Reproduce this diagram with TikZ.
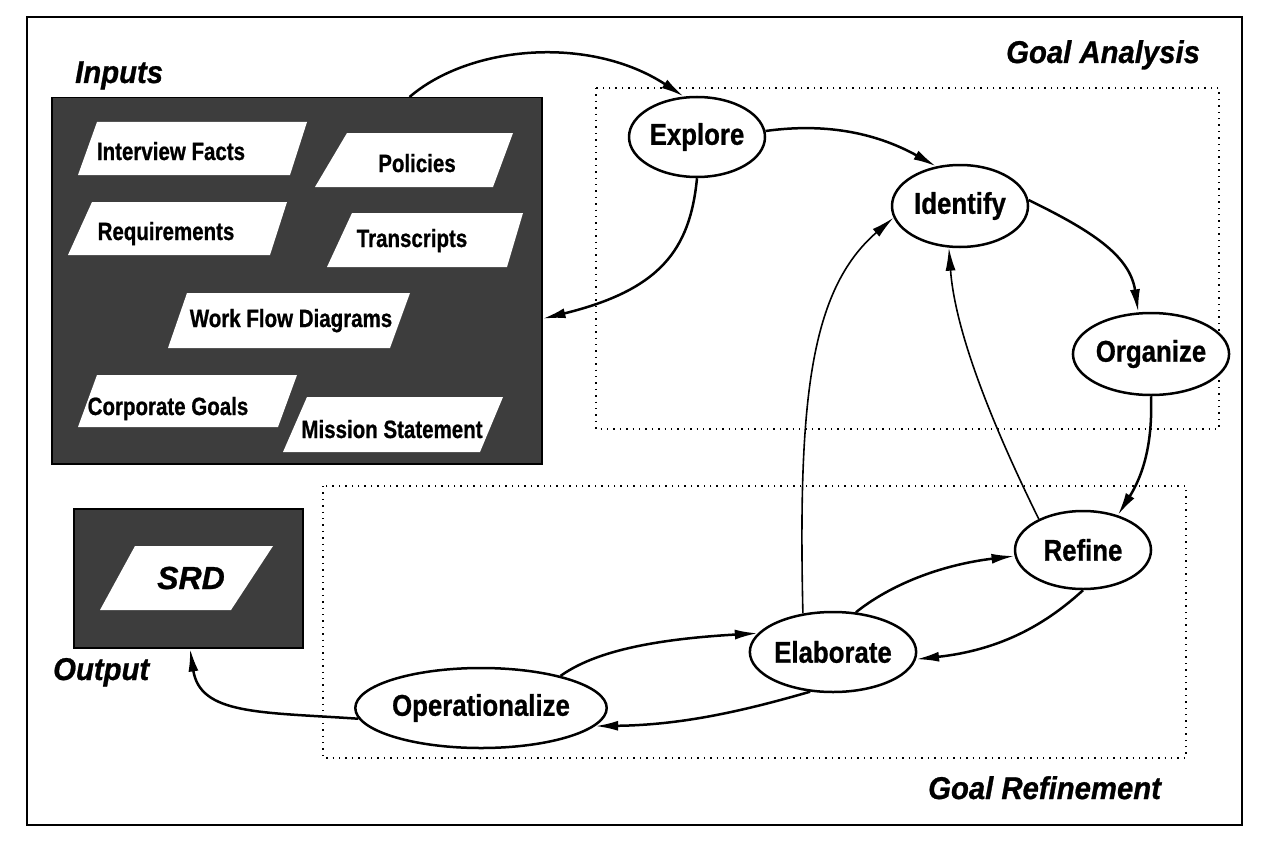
\documentclass[tikz,border=0pt]{standalone}
\usepackage{fontspec}
\setmainfont{Liberation Sans}[BoldFeatures={FakeBold=0.8},BoldItalicFeatures={FakeBold=0.8}]
\newfontfamily\pfont{Liberation Sans}[FakeStretch=0.82,BoldFeatures={FakeBold=0.8}]
\newfontfamily\efont{Liberation Sans}[FakeStretch=0.86,BoldFeatures={FakeBold=0.8}]
\newfontfamily\lfont{Liberation Sans}[FakeStretch=0.93,BoldItalicFeatures={FakeBold=0.8}]
\usetikzlibrary{shapes.geometric,arrows.meta,calc}
\begin{document}
\begin{tikzpicture}[x=1pt,y=-1pt,
  outerframe/.style={line width=2.5pt},
  darkbox/.style={draw=black,line width=1.5pt,fill=black!76,inner sep=0pt,anchor=north west},
  paral/.style={fill=white},
  ptext/.style={font=\pfont\bfseries\fontsize{25}{30}\selectfont,anchor=base,inner sep=0pt},
  goalnode/.style={ellipse,draw,line width=2.5pt,fill=white,inner sep=0pt,font=\efont\bfseries\fontsize{30}{36}\selectfont},
  lbl/.style={font=\lfont\bfseries\itshape\fontsize{31.5}{38}\selectfont,anchor=base west,inner sep=0pt},
  zonebox/.style={line width=1.4pt,dash pattern=on 1.4pt off 5pt},
  arr/.style={line width=2.5pt,-{Latex[length=23pt,width=10pt]}},
  thinarr/.style={line width=1.6pt,-{Latex[length=23pt,width=10pt]}}
]
\useasboundingbox (0,0) rectangle (1273,848);
\fill[white] (0,0) rectangle (1273,848);
% outer frame
\draw[outerframe] (27,17) rectangle (1242,825);
% zones
\draw[zonebox] (596,88) rectangle (1219,429);
\draw[zonebox] (323,486) rectangle (1186,758);
\node[lbl] (lga) at (1006,63) {Goal Analysis};
\node[lbl] (lgr) at (928,799) {Goal Refinement};
% inputs
\node[lbl] (linputs) at (75,83) {Inputs};
\node[darkbox,minimum width=490pt,minimum height=366pt] (inbox) at (51,97) {};
\fill[paral] (97,122) -- (307,122) -- (290,175) -- (78,175) -- cycle;
\fill[paral] (347,133) -- (513,133) -- (493,187) -- (315,187) -- cycle;
\fill[paral] (92,202) -- (287,202) -- (270,255) -- (68,255) -- cycle;
\fill[paral] (352,213) -- (523,213) -- (507,267) -- (327,267) -- cycle;
\fill[paral] (187,293) -- (410,293) -- (390,348) -- (168,348) -- cycle;
\fill[paral] (97,375) -- (297,375) -- (278,427) -- (78,427) -- cycle;
\fill[paral] (307,397) -- (503,397) -- (480,452) -- (283,452) -- cycle;
\node[ptext] (tif) at (171,160) {Interview Facts};
\node[ptext] (tpol) at (417,172) {Policies};
\node[ptext] (treq) at (166,240) {Requirements};
\node[ptext] (ttra) at (412,247) {Transcripts};
\node[ptext] (twfd) at (291,327) {Work Flow Diagrams};
\node[ptext] (tcg) at (168,415) {Corporate Goals};
\node[ptext] (tms) at (392,438) {Mission Statement};
% output
\node[darkbox,minimum width=229pt,minimum height=139pt] (outbox) at (73,508) {};
\fill[paral] (135,546) -- (273,546) -- (231,610) -- (100,610) -- cycle;
\node[font=\bfseries\itshape\fontsize{32}{38}\selectfont,inner sep=0pt] (tsrd) at (191,578) {SRD};
\node[lbl] (loutput) at (53,680) {Output};
% goal nodes
\node[goalnode,minimum width=136pt,minimum height=80pt] (explore) at (697,137) {Explore};
\node[goalnode,minimum width=136pt,minimum height=82pt] (identify) at (960,206) {Identify};
\node[goalnode,minimum width=137pt,minimum height=82pt] (organize) at (1151,354) {Organize};
\node[goalnode,minimum width=136pt,minimum height=78pt] (refine) at (1083,550) {Refine};
\node[goalnode,minimum width=137pt,minimum height=80pt] (elaborate) at (833,652) {Elaborate};
\node[goalnode,minimum width=228pt,minimum height=80pt] (oper) at (481,708) {Operationalize};
% connectors
\draw[arr] ([xshift=-133pt]inbox.north east) .. controls (470,45) and (590,35) .. (explore.108);
\draw[arr] (explore.south) .. controls (690,250) and (660,290) .. ([yshift=-38pt]inbox.east);
\draw[arr] (explore.5) .. controls (830,122) and (880,135) .. (identify.121);
\draw[arr] (identify.5) .. controls (1090,230) and (1130,255) .. (organize.107);
\draw[arr] (organize.south) .. controls (1153,450) and (1140,480) .. (refine.45);
\draw[thinarr] (refine.145) .. controls (990,420) and (955,330) .. (identify.255);
\draw[thinarr] (elaborate.128) .. controls (798,400) and (810,290) .. (identify.190);
\draw[arr] (elaborate.60) .. controls (890,585) and (940,565) .. (refine.185);
\draw[arr] (refine.270) .. controls (1045,625) and (1000,650) .. (elaborate.-5);
\draw[arr] (oper.22) .. controls (590,655) and (640,640) .. (elaborate.166);
\draw[arr] (elaborate.240) .. controls (740,712) and (680,725) .. (oper.-9);
\draw[arr] (oper.185) .. controls (260,712) and (200,715) .. ([xshift=117pt]outbox.south west);
\end{tikzpicture}
\end{document}
